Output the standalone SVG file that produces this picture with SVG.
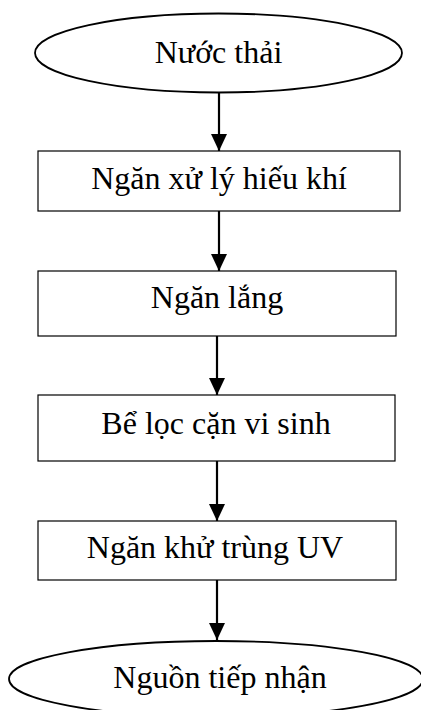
<svg xmlns="http://www.w3.org/2000/svg" width="421" height="710" viewBox="0 0 421 710">
<defs>
<style>
.box{fill:#fff;stroke:#000;stroke-width:1.2}
.ell{fill:#fff;stroke:#000;stroke-width:1.8}
.t{font-family:"Liberation Serif","Times New Roman",serif;font-size:32px;fill:#000;text-anchor:middle}
.c{stroke:#000;stroke-width:2.2;fill:none;marker-end:url(#ah)}
</style>
<marker id="ah" viewBox="0 0 17 16" refX="17" refY="8" markerWidth="17" markerHeight="16" markerUnits="userSpaceOnUse" orient="auto">
<path d="M0,0 L17,8 L0,16 Z" fill="#000"/>
</marker>
</defs>
<rect width="421" height="710" fill="#fff"/>
<g id="connectors">
<line class="c" x1="219" y1="92" x2="219" y2="151"/>
<line class="c" x1="219" y1="211" x2="219" y2="271"/>
<line class="c" x1="217" y1="336" x2="217" y2="395"/>
<line class="c" x1="217" y1="461" x2="217" y2="521"/>
<line class="c" x1="217" y1="580" x2="217" y2="640"/>
</g>
<g id="n1">
<ellipse class="ell" cx="218.5" cy="53" rx="183.5" ry="39.5"/>
<text class="t" x="218.5" y="63">Nước thải</text>
</g>
<g id="n2">
<rect class="box" x="38" y="151" width="362" height="60"/>
<text class="t" x="219" y="189">Ngăn xử lý hiếu khí</text>
</g>
<g id="n3">
<rect class="box" x="38" y="271" width="358" height="65"/>
<text class="t" x="217" y="308">Ngăn lắng</text>
</g>
<g id="n4">
<rect class="box" x="38" y="395" width="357" height="66"/>
<text class="t" x="216" y="434">Bể lọc cặn vi sinh</text>
</g>
<g id="n5">
<rect class="box" x="38" y="521" width="358" height="59"/>
<text class="t" x="215" y="558">Ngăn khử trùng UV</text>
</g>
<g id="n6">
<ellipse class="ell" cx="216" cy="679" rx="207" ry="38"/>
<text class="t" x="220" y="688">Nguồn tiếp nhận</text>
</g>
</svg>
